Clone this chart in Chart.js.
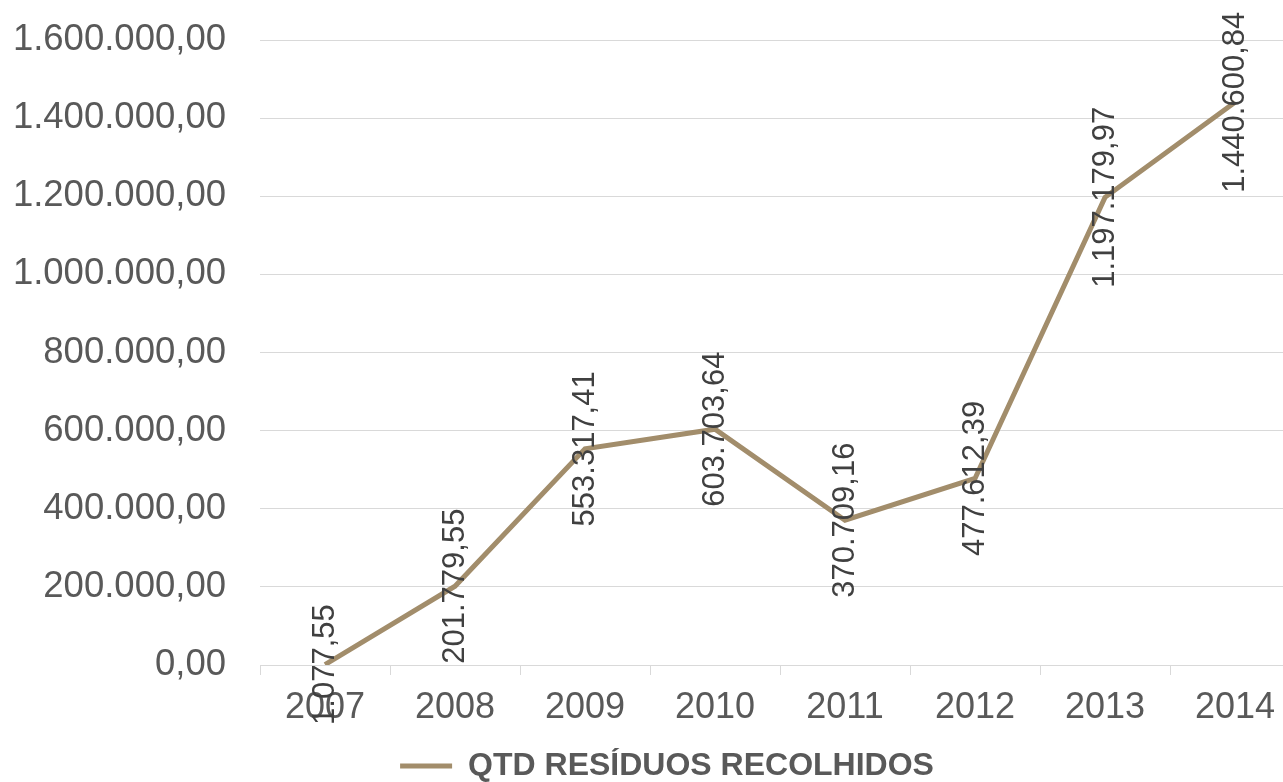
<!DOCTYPE html>
<html>
<head>
<meta charset="utf-8">
<script src="https://cdn.jsdelivr.net/npm/chart.js@4/dist/chart.umd.min.js"></script>
<style>
html,body{margin:0;padding:0;background:#fff;overflow:hidden;}
#wrap{width:1300px;height:782px;position:relative;}
</style>
</head>
<body>
<div id="wrap"><canvas id="c"></canvas></div>
<script>
const categories = ['2007','2008','2009','2010','2011','2012','2013','2014'];
const residuos = [1077.55, 201779.55, 553317.41, 603703.64, 370709.16, 477612.39, 1197179.97, 1440600.84];
const seriesName = 'QTD RESÍDUOS RECOLHIDOS';

function fmt(v){
  const neg = v < 0;
  v = Math.abs(v);
  let s = v.toFixed(2);
  let [i, d] = s.split('.');
  i = i.replace(/\B(?=(\d{3})+(?!\d))/g, '.');
  return (neg ? '-' : '') + i + ',' + d;
}

const FONT = '"Liberation Sans", Arial, sans-serif';
const lineColor = '#A28D6B';

const dataLabels = {
  id: 'dataLabels',
  afterDatasetsDraw(chart){
    const ctx = chart.ctx;
    const meta = chart.getDatasetMeta(0);
    ctx.save();
    ctx.font = '31px ' + FONT;
    ctx.fillStyle = '#404040';
    ctx.textAlign = 'center';
    ctx.textBaseline = 'middle';
    meta.data.forEach((pt, i) => {
      ctx.save();
      ctx.translate(pt.x, pt.y);
      ctx.rotate(-Math.PI/2);
      ctx.fillText(fmt(chart.data.datasets[0].data[i]), 0, 0);
      ctx.restore();
    });
    ctx.restore();
  }
};

const legendShift = {
  id: 'legendShift',
  afterLayout(chart){
    const lg = chart.legend;
    if (!lg) return;
    lg.left += 17; lg.right += 17;
    lg.top += 10; lg.bottom += 10;
  }
};

new Chart(document.getElementById('c'), {
  type: 'line',
  data: {
    labels: categories,
    datasets: [{
      label: seriesName,
      data: residuos,
      borderColor: lineColor,
      backgroundColor: lineColor,
      borderWidth: 5,
      pointRadius: 0,
      tension: 0,
      fill: false
    }]
  },
  options: {
    responsive: true,
    maintainAspectRatio: false,
    animation: false,
    layout: { padding: { top: 40, right: 0, left: 0, bottom: 0 } },
    plugins: {
      tooltip: { enabled: false },
      legend: {
        position: 'bottom',
        labels: {
          usePointStyle: true,
          pointStyle: 'line',
          pointStyleWidth: 52,
          color: '#595959',
          font: { family: FONT, size: 32, weight: 'bold' },
          padding: 2
        }
      }
    },
    scales: {
      x: {
        offset: true,
        grid: {
          offset: true,
          drawOnChartArea: false,
          drawTicks: true,
          tickLength: 10,
          color: '#D9D9D9',
          lineWidth: 1
        },
        border: { display: true, color: '#D9D9D9', width: 1 },
        ticks: {
          color: '#595959',
          font: { family: FONT, size: 36 },
          padding: 11,
          maxRotation: 0,
          autoSkip: false
        },
        afterFit(scale){ scale.height = 73; }
      },
      y: {
        min: 0,
        max: 1600000,
        grid: {
          color: '#D9D9D9',
          lineWidth: 1,
          drawTicks: true,
          tickLength: 34,
          tickColor: 'rgba(0,0,0,0)'
        },
        border: { display: false },
        ticks: {
          stepSize: 200000,
          color: '#595959',
          font: { family: FONT, size: 36.5 },
          padding: 0,
          callback: (v) => fmt(v)
        },
        afterFit(scale){ scale.width = 260; }
      }
    }
  },
  plugins: [dataLabels, legendShift]
});
</script>
</body>
</html>
